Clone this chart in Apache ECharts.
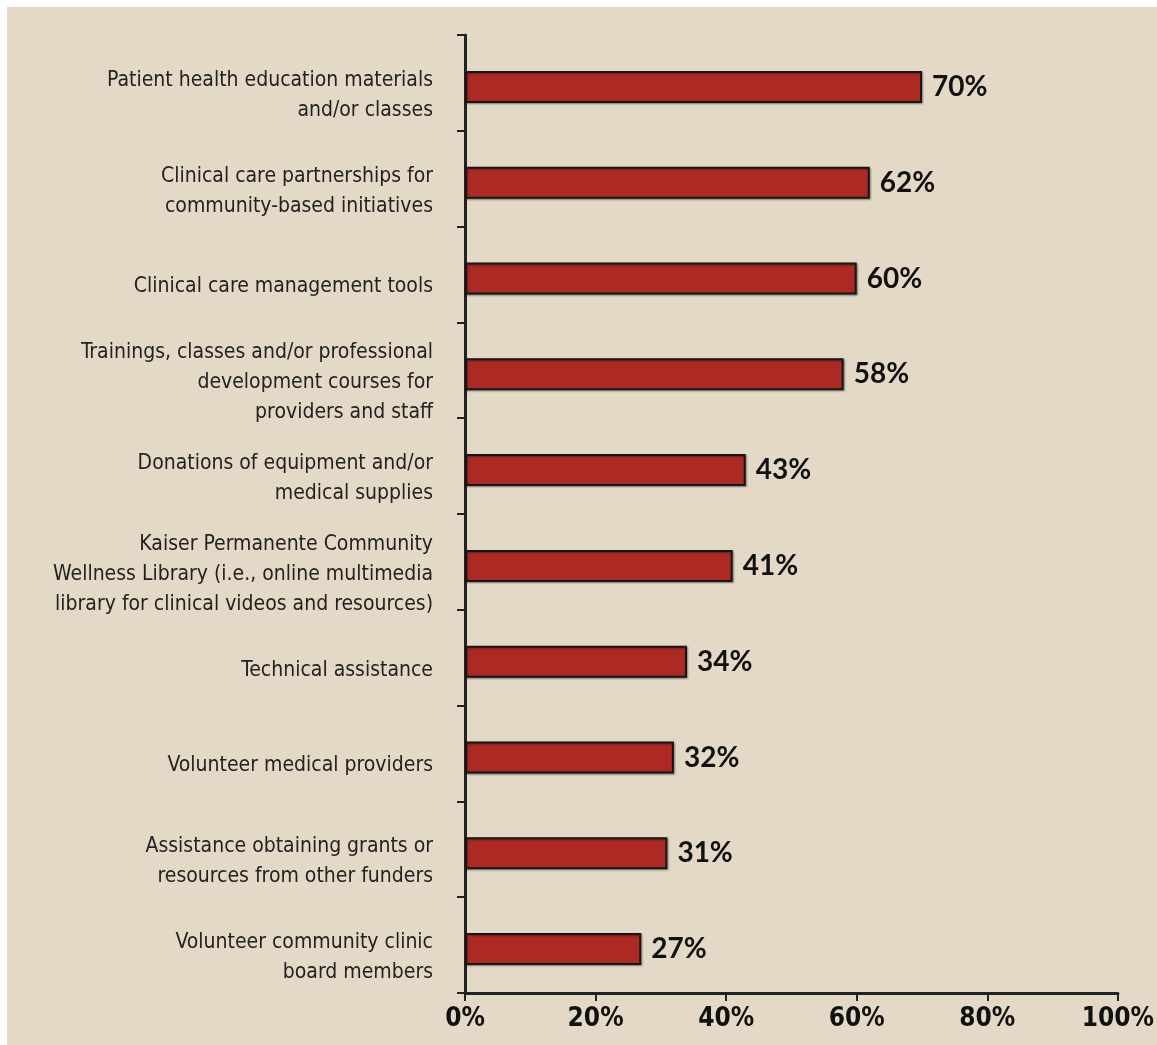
<!DOCTYPE html>
<html>
<head>
<meta charset="utf-8">
<script src="https://cdn.jsdelivr.net/npm/echarts@6/dist/echarts.min.js"></script>
<style>
html,body{margin:0;padding:0;background:#ffffff;}
#c{position:absolute;left:7px;top:7px;width:1150px;height:1038px;}
</style>
</head>
<body>
<div id="c"></div>
<script>
const categories = [
  "Patient health education materials\nand/or classes",
  "Clinical care partnerships for\ncommunity-based initiatives",
  "Clinical care management tools",
  "Trainings, classes and/or professional\ndevelopment courses for\nproviders and staff",
  "Donations of equipment and/or\nmedical supplies",
  "Kaiser Permanente Community\nWellness Library (i.e., online multimedia\nlibrary for clinical videos and resources)",
  "Technical assistance",
  "Volunteer medical providers",
  "Assistance obtaining grants or\nresources from other funders",
  "Volunteer community clinic\nboard members"
];
const values = [70, 62, 60, 58, 43, 41, 34, 32, 31, 27];
const xTicks = [0, 20, 40, 60, 80, 100];

const chart = echarts.init(document.getElementById('c'));
chart.setOption({
  backgroundColor: '#e3d9c6',
  animation: false,
  grid: {left: 458, right: 37, top: 28, bottom: 52, containLabel: false},
  xAxis: {
    type: 'value', min: xTicks[0], max: xTicks[xTicks.length - 1], interval: 20,
    axisLine: {show: true, lineStyle: {color: '#222', width: 3}},
    axisTick: {show: true, length: 8, lineStyle: {color: '#222', width: 2}},
    splitLine: {show: false},
    axisLabel: {
      margin: 13,
      formatter: v => v + '%',
      fontFamily: '"Liberation Sans Narrow", "DejaVu Sans Condensed", sans-serif',
      fontWeight: 'bold', fontSize: 26, color: '#111'
    }
  },
  yAxis: {
    type: 'category', data: categories, inverse: true,
    axisLine: {show: true, lineStyle: {color: '#222', width: 3}},
    axisTick: {show: true, length: 8, lineStyle: {color: '#222', width: 2}},
    axisLabel: {
      margin: 32, align: 'right',
      formatter: v => '{t|' + v.split('\n').join('}\n{t|') + '}',
      rich: {
        t: {
          fontFamily: '"Liberation Sans Narrow", "DejaVu Sans Condensed", sans-serif',
          fontSize: 21, lineHeight: 30, color: '#222', align: 'right'
        }
      },
      padding: [25, 0, 0, 0]
    }
  },
  series: [{
    type: 'bar', data: [], barWidth: 32, barGap: '-75%', silent: true
  }, {
    type: 'bar', data: values, barWidth: 32, barGap: '-75%',
    itemStyle: {
      color: '#ad2a24', borderColor: '#161616', borderWidth: 2,
      shadowColor: 'rgba(0,0,0,0.35)', shadowBlur: 2, shadowOffsetX: 1, shadowOffsetY: 1
    },
    label: {
      show: true, position: 'right', distance: 10,
      formatter: p => p.value + '%',
      fontFamily: 'Lato, "Noto Sans", sans-serif', fontWeight: 'bold',
      fontSize: 28, color: '#111'
    }
  }]
});
</script>
</body>
</html>
